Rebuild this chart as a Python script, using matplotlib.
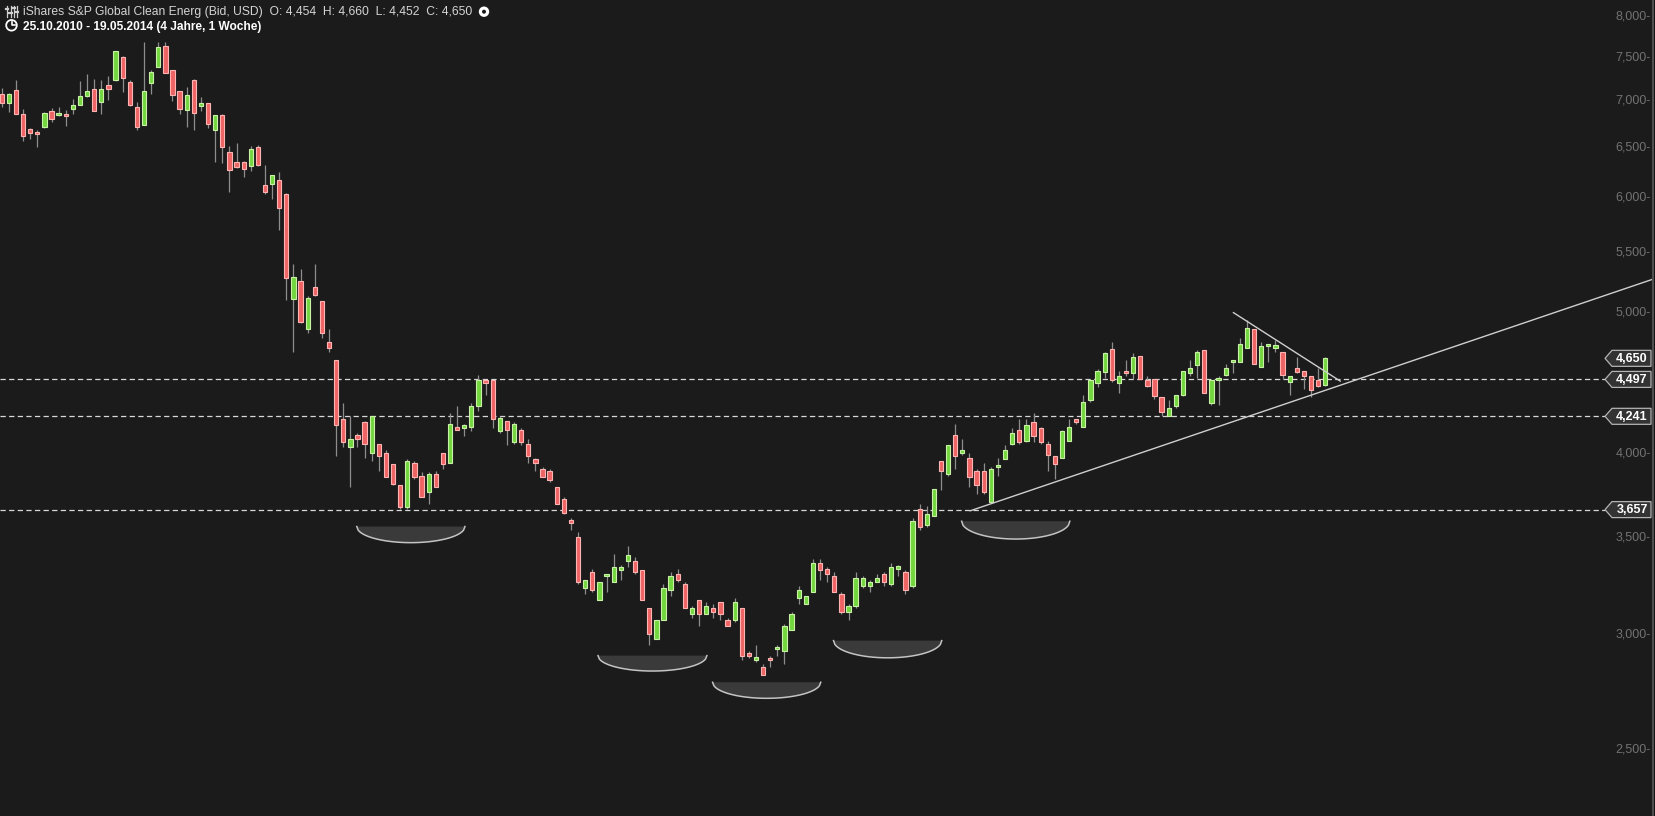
import numpy as np
import matplotlib
matplotlib.use('Agg')
import matplotlib.pyplot as plt
from matplotlib.patches import Polygon, Circle, Rectangle
import matplotlib.transforms as mtransforms

plt.rcParams['font.family'] = ['Liberation Sans', 'DejaVu Sans']
plt.rcParams['lines.scale_dashes'] = False

# ---------------- data ----------------
title = "iShares S&P Global Clean Energ (Bid, USD)"
period = "25.10.2010 - 19.05.2014 (4 Jahre, 1 Woche)"

opens = [7.08, 6.98, 7.12, 6.86, 6.69, 6.66, 6.71, 6.89, 6.84, 6.85,
         6.91, 6.95, 7.05, 7.13, 6.99, 7.18, 7.23, 7.50, 7.21, 6.93,
         6.74, 7.20, 7.39, 7.64, 7.35, 7.11, 6.90, 7.24, 6.94, 6.97,
         6.68, 6.84, 6.45, 6.35, 6.35, 6.31, 6.50, 6.12, 6.13, 6.17,
         6.04, 5.11, 5.26, 4.87, 5.21, 5.09, 4.77, 4.64, 4.22, 4.04,
         4.12, 4.20, 4.00, 4.06, 4.00, 3.93, 3.80, 3.67, 3.94, 3.86,
         3.76, 3.87, 4.00, 3.94, 4.17, 4.16, 4.17, 4.31, 4.49, 4.49,
         4.14, 4.21, 4.07, 4.15, 4.06, 3.96, 3.90, 3.89, 3.79, 3.72,
         3.59, 3.50, 3.23, 3.31, 3.17, 3.29, 3.26, 3.32, 3.37, 3.37,
         3.32, 3.13, 2.98, 3.07, 3.22, 3.30, 3.25, 3.10, 3.17, 3.10,
         3.13, 3.16, 3.07, 3.07, 3.13, 2.91, 2.88, 2.85, 2.883, 2.93,
         2.92, 3.02, 3.18, 3.15, 3.21, 3.36, 3.33, 3.29, 3.20, 3.11,
         3.14, 3.24, 3.24, 3.26, 3.30, 3.25, 3.33, 3.31, 3.24, 3.66,
         3.57, 3.62, 3.95, 3.87, 4.12, 4.00, 3.97, 3.89, 3.89, 3.70,
         3.91, 3.96, 4.06, 4.15, 4.08, 4.20, 4.16, 4.06, 3.98, 3.97,
         4.08, 4.22, 4.17, 4.35, 4.47, 4.55, 4.72, 4.47, 4.56, 4.54,
         4.67, 4.49, 4.50, 4.37, 4.24, 4.31, 4.39, 4.54, 4.60, 4.71,
         4.33, 4.49, 4.53, 4.62, 4.62, 4.73, 4.87, 4.59, 4.74, 4.73,
         4.70, 4.48, 4.58, 4.56, 4.52, 4.49, 4.454]

highs = [7.14, 7.09, 7.24, 6.91, 6.70, 6.68, 6.88, 6.92, 6.93, 6.90,
         7.02, 7.22, 7.30, 7.25, 7.24, 7.28, 7.58, 7.51, 7.23, 6.99,
         7.68, 7.35, 7.68, 7.69, 7.35, 7.11, 7.16, 7.25, 7.04, 6.97,
         6.84, 6.85, 6.51, 6.55, 6.36, 6.51, 6.53, 6.32, 6.22, 6.25,
         6.05, 5.40, 5.36, 5.13, 5.40, 5.09, 4.87, 4.64, 4.33, 4.24,
         4.13, 4.21, 4.24, 4.06, 4.02, 3.93, 3.80, 3.96, 3.95, 3.88,
         3.88, 3.89, 4.00, 4.26, 4.31, 4.19, 4.33, 4.53, 4.49, 4.49,
         4.24, 4.21, 4.20, 4.16, 4.09, 3.97, 3.91, 3.90, 3.79, 3.73,
         3.61, 3.53, 3.27, 3.33, 3.26, 3.30, 3.41, 3.35, 3.45, 3.39,
         3.32, 3.13, 3.07, 3.25, 3.31, 3.33, 3.26, 3.14, 3.17, 3.16,
         3.15, 3.16, 3.08, 3.18, 3.13, 2.92, 2.95, 2.86, 2.90, 2.95,
         3.05, 3.11, 3.24, 3.19, 3.38, 3.38, 3.34, 3.31, 3.21, 3.15,
         3.31, 3.29, 3.27, 3.30, 3.31, 3.36, 3.35, 3.32, 3.61, 3.69,
         3.68, 3.78, 3.95, 4.05, 4.19, 4.09, 4.00, 3.90, 3.94, 3.91,
         3.97, 4.05, 4.16, 4.22, 4.22, 4.26, 4.17, 4.08, 3.98, 4.15,
         4.22, 4.22, 4.39, 4.50, 4.57, 4.70, 4.77, 4.56, 4.64, 4.69,
         4.67, 4.52, 4.50, 4.37, 4.35, 4.39, 4.56, 4.64, 4.71, 4.71,
         4.49, 4.52, 4.61, 4.63, 4.80, 4.94, 4.87, 4.77, 4.76, 4.79,
         4.70, 4.52, 4.66, 4.56, 4.52, 4.58, 4.660]

lows = [6.93, 6.88, 6.86, 6.57, 6.59, 6.50, 6.70, 6.77, 6.83, 6.72,
        6.86, 6.95, 7.04, 6.89, 6.85, 7.01, 7.22, 7.10, 6.94, 6.68,
        6.74, 7.08, 7.38, 7.32, 7.00, 6.85, 6.71, 6.68, 6.89, 6.70,
        6.35, 6.34, 6.06, 6.29, 6.20, 6.26, 6.31, 6.04, 5.99, 5.70,
        5.10, 4.70, 4.92, 4.84, 5.13, 4.80, 4.70, 3.98, 4.04, 3.79,
        4.04, 3.97, 3.95, 3.89, 3.85, 3.80, 3.66, 3.66, 3.84, 3.73,
        3.69, 3.79, 3.90, 3.94, 4.15, 4.11, 4.14, 4.28, 4.39, 4.16,
        4.13, 4.05, 4.06, 4.05, 3.94, 3.89, 3.85, 3.82, 3.69, 3.63,
        3.54, 3.25, 3.20, 3.21, 3.17, 3.21, 3.26, 3.27, 3.34, 3.30,
        3.17, 2.95, 2.98, 3.07, 3.19, 3.26, 3.13, 3.08, 3.04, 3.10,
        3.08, 3.07, 3.04, 3.06, 2.88, 2.89, 2.87, 2.81, 2.85, 2.90,
        2.86, 3.02, 3.15, 3.15, 3.21, 3.27, 3.26, 3.21, 3.10, 3.07,
        3.13, 3.23, 3.21, 3.26, 3.24, 3.24, 3.29, 3.20, 3.23, 3.54,
        3.56, 3.62, 3.77, 3.86, 3.90, 3.99, 3.79, 3.75, 3.75, 3.70,
        3.86, 3.96, 4.05, 4.06, 4.07, 4.07, 4.06, 3.89, 3.84, 3.97,
        4.08, 4.19, 4.17, 4.34, 4.44, 4.51, 4.48, 4.40, 4.52, 4.50,
        4.50, 4.44, 4.36, 4.24, 4.24, 4.30, 4.38, 4.52, 4.51, 4.40,
        4.32, 4.32, 4.52, 4.54, 4.62, 4.73, 4.61, 4.59, 4.62, 4.70,
        4.50, 4.39, 4.54, 4.43, 4.37, 4.44, 4.452]

closes = [6.97, 7.08, 6.86, 6.62, 6.65, 6.64, 6.87, 6.80, 6.87, 6.83,
          6.95, 7.05, 7.11, 6.89, 7.13, 7.13, 7.57, 7.26, 6.95, 6.71,
          7.11, 7.33, 7.62, 7.32, 7.06, 6.91, 7.06, 6.87, 6.98, 6.75,
          6.84, 6.50, 6.27, 6.30, 6.28, 6.48, 6.32, 6.06, 6.22, 5.90,
          5.28, 5.29, 4.93, 5.12, 5.14, 4.84, 4.73, 4.18, 4.07, 4.09,
          4.09, 4.06, 4.24, 3.98, 3.85, 3.81, 3.67, 3.95, 3.85, 3.73,
          3.87, 3.79, 3.93, 4.19, 4.15, 4.18, 4.31, 4.49, 4.47, 4.22,
          4.23, 4.15, 4.19, 4.07, 3.98, 3.94, 3.85, 3.83, 3.69, 3.64,
          3.58, 3.26, 3.27, 3.22, 3.26, 3.30, 3.34, 3.34, 3.40, 3.31,
          3.17, 3.00, 3.07, 3.23, 3.29, 3.27, 3.13, 3.13, 3.10, 3.14,
          3.11, 3.10, 3.04, 3.16, 2.90, 2.90, 2.89, 2.81, 2.879, 2.94,
          3.04, 3.10, 3.22, 3.19, 3.36, 3.32, 3.30, 3.21, 3.11, 3.14,
          3.28, 3.28, 3.26, 3.28, 3.26, 3.34, 3.34, 3.22, 3.59, 3.56,
          3.63, 3.78, 3.89, 4.05, 3.98, 4.02, 3.85, 3.80, 3.76, 3.90,
          3.92, 4.02, 4.13, 4.07, 4.18, 4.11, 4.07, 3.99, 3.93, 4.14,
          4.17, 4.20, 4.34, 4.49, 4.56, 4.69, 4.49, 4.52, 4.54, 4.66,
          4.50, 4.45, 4.38, 4.27, 4.30, 4.39, 4.56, 4.58, 4.70, 4.40,
          4.49, 4.51, 4.58, 4.63, 4.76, 4.88, 4.61, 4.74, 4.76, 4.75,
          4.53, 4.52, 4.55, 4.52, 4.42, 4.45, 4.650]

ytick_values = [2.5, 3.0, 3.5, 4.0, 4.5, 5.0, 5.5, 6.0, 6.5, 7.0, 7.5, 8.0]
level_lines = [4.497, 4.241, 3.657]
tag_values = [4.650, 4.497, 4.241, 3.657]

# trend lines (candle index, price)
rising_x = [136.1, 231.9]
rising_y = [3.65, 5.27]
falling_x = [173.1, 188.1]
falling_y = [5.00, 4.485]

# "bowl" markers under the lows (start index, end index, top price, bottom price)
bowl_x0 = [49.9, 83.8, 99.9, 116.9, 134.9]
bowl_x1 = [65.1, 99.1, 115.1, 132.1, 150.1]
bowl_top = [3.56, 2.90, 2.78, 2.97, 3.59]
bowl_bottom = [3.47, 2.83, 2.71, 2.89, 3.49]

# ---------------- figure ----------------
W, H = 1656, 816
bg = '#1c1b1b'
fig = plt.figure(figsize=(W / 100, H / 100), dpi=100)
fig.patch.set_facecolor(bg)
ax = fig.add_axes([0, 0, 1, 1])
ax.set_facecolor(bg)
ax.set_yscale('log')
step = 7.116
x0px = 1.7
ax.set_axis_off()

O = np.array(opens); Hh = np.array(highs); L = np.array(lows); C = np.array(closes)
n = len(O)
x = np.arange(n)
up = C >= O
lo = np.minimum(O, C)
hi = np.maximum(np.maximum(O, C), lo * 1.004)

ax.vlines(x, L, Hh, color='#8d8d8d', lw=0.9, zorder=2)
ax.bar(x[up], hi[up] - lo[up], bottom=lo[up], width=0.6, color='#74d63f',
       edgecolor='#c8f2a6', linewidth=0.8, zorder=3)
ax.bar(x[~up], hi[~up] - lo[~up], bottom=lo[~up], width=0.6, color='#ee6464',
       edgecolor='#ffb4b4', linewidth=0.8, zorder=3)
ax.set_xlim(-x0px / step, (W - x0px) / step)
ax.set_ylim(2.248, 8.215)

# dashed level lines
for v in level_lines:
    ax.axhline(v, xmin=0, xmax=1605 / W, color='#d8d8d8', lw=0.9,
               linestyle=(0, (3.8, 2.4)), zorder=1)

# trend lines
ax.plot(rising_x, rising_y, color='#cfcfcf', lw=1.0, zorder=4)
ax.plot(falling_x, falling_y, color='#cfcfcf', lw=1.0, zorder=4)

# bowls
for a, b, t, btm in zip(bowl_x0, bowl_x1, bowl_top, bowl_bottom):
    s = np.linspace(-1, 1, 80)
    xs = (a + b) / 2 + s * (b - a) / 2
    depth = np.log(t) - np.log(btm)
    ys = np.exp(np.log(t) - depth * np.sqrt(np.clip(1 - s ** 2, 0, 1)))
    verts = list(zip(xs, ys)) + [(b, t), (a, t)]
    ax.add_patch(Polygon(verts, closed=True, facecolor='#3a3a3a',
                         edgecolor='none', zorder=1))
    ax.plot(xs, ys, color='#c4c4c4', lw=1.1, zorder=2)

# right axis labels
tr = mtransforms.blended_transform_factory(ax.transAxes, ax.transData)
for v in ytick_values:
    ax.text(1651 / W, v, f"{v:.3f}".replace('.', ',') + '-', transform=tr,
            ha='right', va='center', color='#727272', fontsize=9)

# price tags (drawn in pixel coordinates)
ident = mtransforms.IdentityTransform()
fig.canvas.draw()
for v in tag_values:
    yd = ax.transData.transform((0, v))[1]
    verts = [(1605, yd), (1612, yd + 8), (1651, yd + 8), (1651, yd - 8), (1612, yd - 8)]
    ax.add_patch(Polygon(verts, closed=True, facecolor='#333333',
                         edgecolor='#b4b4b4', lw=0.9, transform=ident,
                         zorder=6, clip_on=False))
    ax.text(1632, yd - 0.5, f"{v:.3f}".replace('.', ','), transform=ident,
            ha='center', va='center', color='white', fontsize=9,
            fontweight='bold', zorder=7)

# right border
ax.add_patch(Rectangle((1654, 0), 2, H, transform=ident, facecolor='#121212',
                       edgecolor='none', zorder=8, clip_on=False))
ax.plot([1652.8, 1652.8], [0, H], transform=ident, color='#4e4e4e', lw=1.5,
        clip_on=False, zorder=8)

# header texts
def fmt(v):
    return f"{v:.3f}".replace('.', ',')

line1 = (f"{title}  O: {fmt(O[-1])}  H: {fmt(Hh[-1])}  "
         f"L: {fmt(L[-1])}  C: {fmt(C[-1])}")
ax.text(23, H - 12.5, line1, transform=ident, ha='left', va='center',
        color='#d4d4d4', fontsize=8.7, zorder=9)
ax.text(23, H - 27.0, period, transform=ident, ha='left', va='center',
        color='white', fontsize=8.6, fontweight='bold', zorder=9)

# icons
# sliders icon
for xi, ym in zip([7, 10.5, 14, 17], [9, 13, 8, 12]):
    ax.plot([xi, xi], [H - 17, H - 6], transform=ident, color='#d0d0d0',
            lw=0.9, zorder=9)
    ax.plot([xi - 1.2, xi + 1.2], [H - ym, H - ym], transform=ident,
            color='#d0d0d0', lw=1.6, zorder=9)
# clock icon
ax.add_patch(Circle((11.5, H - 25.3), 5.3, transform=ident, facecolor='none',
                    edgecolor='white', lw=1.3, zorder=9))
ax.plot([11.5, 11.5, 14.5], [H - 21.5, H - 25.3, H - 25.3], transform=ident,
        color='white', lw=1.2, zorder=9)
# settings dot icon
ax.add_patch(Circle((484, H - 11.7), 5.2, transform=ident, facecolor='white',
                    edgecolor='none', zorder=9))
ax.add_patch(Circle((484, H - 11.7), 2.0, transform=ident, facecolor='#1c1b1b',
                    edgecolor='none', zorder=10))

fig.savefig('out.png', dpi=100, facecolor=bg)
